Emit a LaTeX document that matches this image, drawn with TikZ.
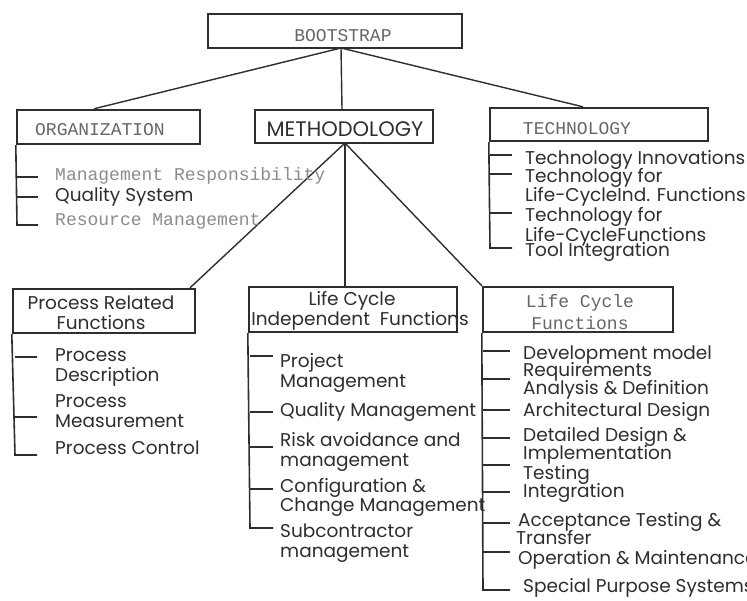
\documentclass[tikz,border=0pt]{standalone}
\usepackage{fontspec}
\setmainfont{Poppins}
\newfontfamily\typefont{Liberation Mono}
\definecolor{ink}{HTML}{2E2E2E}
\definecolor{typeink}{HTML}{666666}
\definecolor{lightink}{HTML}{8C8C8C}
\tikzset{
  box/.style={draw=ink, line width=2.4pt, inner sep=0pt},
  link/.style={draw=ink, line width=1.4pt},
  spine/.style={draw=ink, line width=1.6pt},
  sanslabel/.style={inner sep=0pt, text=ink, yshift=-2pt, font=\fontsize{18.5}{18.5}\selectfont},
  headlabel/.style={sanslabel, font=\fontsize{21}{21}\selectfont},
  typelabel/.style={inner sep=0pt, text=typeink, font=\typefont\fontsize{18}{18}\selectfont},
  lighttype/.style={typelabel, text=lightink},
  item/.style={sanslabel, anchor=mid west},
  typeitem/.style={lighttype, anchor=mid west}
}
\begin{document}
\begin{tikzpicture}[x=1pt,y=-1pt]
\useasboundingbox[fill=white] (0,0) rectangle (747,601);

% top-level boxes
\node[box, minimum width=254pt, minimum height=34pt] (boot) at (335,31) {};
\node[typelabel] (bootT) at (343,36) {BOOTSTRAP};

\node[box, minimum width=183pt, minimum height=34pt] (org) at (108.5,127) {};
\node[typelabel] (orgT) at (100,130) {ORGANIZATION};

\node[box, minimum width=178pt, minimum height=33pt] (meth) at (344,126.5) {};
\node[headlabel] (methT) at (345,127) {METHODOLOGY};

\node[box, minimum width=218pt, minimum height=33pt] (tech) at (599,124.5) {};
\node[typelabel] (techT) at (577,129) {TECHNOLOGY};

% second-level boxes under METHODOLOGY
\node[box, minimum width=182pt, minimum height=44pt] (prf) at (104,311) {};
\node[sanslabel] (prfT1) at (101,301) {Process Related};
\node[sanslabel] (prfT2) at (101,321) {Functions};

\node[box, minimum width=208pt, minimum height=45pt] (lci) at (353,309.5) {};
\node[sanslabel] (lciT1) at (352,299) {Life Cycle};
\node[sanslabel] (lciT2) at (360,319) {Independent\ \ Functions};

\node[box, minimum width=190pt, minimum height=45pt] (lcf) at (578,309.5) {};
\node[typelabel] (lcfT1) at (580,303) {Life Cycle};
\node[typelabel] (lcfT2) at (580,323) {Functions};

% connectors of the tree
\coordinate (bootfoot) at (341,48);
\coordinate (methfoot) at (345,143);
\draw[link] (bootfoot) -- (org.north -| 94,0);
\draw[link] (bootfoot) -- (meth.north -| 342,0);
\draw[link] (bootfoot) -- (tech.north -| 583,0);
\draw[link] (methfoot) -- (prf.north -| 190,0);
\draw[link] (methfoot) -- (lci.north -| 345,0);
\draw[link] (methfoot) -- (lcf.north west);

% ORGANIZATION list
\draw[spine] (org.south west) -- (17,225) -- (38,225);
\draw[spine] (17,177) -- (38,177);
\draw[spine] (17,197) -- (38,197);
\node[typeitem] (o1) at (55,178) {Management Responsibility};
\node[item] (o2) at (55,197) {Quality System};
\node[typeitem] (o3) at (55,223) {Resource Management};

% TECHNOLOGY list
\draw[spine] (tech.south west) -- (490,248) -- (512,248);
\foreach \y in {155,174,213} \draw[spine] (490,\y) -- (512,\y);
\node[item] (t1) at (525,160) {Technology Innovations};
\node[item] (t2) at (525,178) {Technology for};
\node[item] (t3) at (525,197) {Life-CycleInd. Functions};
\node[item] (t4) at (525,217) {Technology for};
\node[item] (t5) at (525,237) {Life-CycleFunctions};
\node[item] (t6) at (525,252) {Tool Integration};

% Process Related Functions list
\draw[spine] (prf.south west) -- (15,455) -- (37,455);
\foreach \y in {357,417} \draw[spine] (15,\y) -- (37,\y);
\node[item] (p1) at (55,357) {Process};
\node[item] (p2) at (55,377) {Description};
\node[item] (p3) at (55,403) {Process};
\node[item] (p4) at (55,423) {Measurement};
\node[item] (p5) at (55,450) {Process Control};

% Life Cycle Independent Functions list
\draw[spine] (lci.south west) -- (250,528) -- (273,528);
\foreach \y in {356,412,447,489} \draw[spine] (250,\y) -- (273,\y);
\node[item] (i1) at (280,363) {Project};
\node[item] (i2) at (280,383) {Management};
\node[item] (i3) at (280,412) {Quality Management};
\node[item] (i4) at (280,442) {Risk avoidance and};
\node[item] (i5) at (280,462) {management};
\node[item] (i6) at (280,488) {Configuration \&};
\node[item] (i7) at (280,507) {Change Management};
\node[item] (i8) at (280,533) {Subcontractor};
\node[item] (i9) at (280,553) {management};

% Life Cycle Functions list
\draw[spine] (lcf.south west) -- (483,590) -- (510,590);
\foreach \y in {351,379,410,438,465,492,523,552} \draw[spine] (483,\y) -- (510,\y);
\node[item] (f1) at (523,355) {Development model};
\node[item] (f2) at (523,372) {Requirements};
\node[item] (f3) at (523,390) {Analysis \& Definition};
\node[item] (f4) at (523,412) {Architectural Design};
\node[item] (f5) at (523,437) {Detailed Design \&};
\node[item] (f6) at (523,455) {Implementation};
\node[item] (f7) at (523,475) {Testing};
\node[item] (f8) at (523,493) {Integration};
\node[item] (f9) at (518,522) {Acceptance Testing \&};
\node[item] (f10) at (516,540) {Transfer};
\node[item] (f11) at (518,560) {Operation \& Maintenance};
\node[item] (f12) at (523,588) {Special Purpose Systems};
\end{tikzpicture}
\end{document}
